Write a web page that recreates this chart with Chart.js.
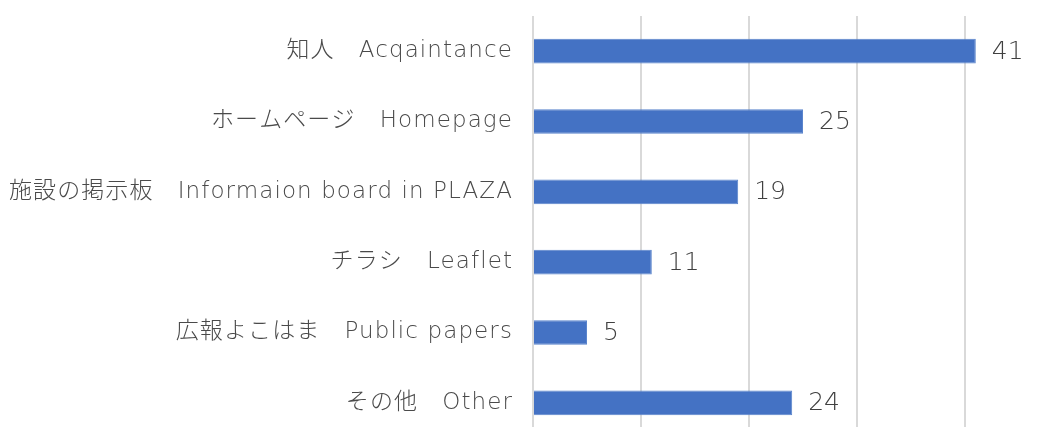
<!DOCTYPE html>
<html>
<head>
<meta charset="utf-8">
<script src="https://cdn.jsdelivr.net/npm/chart.js@4/dist/chart.umd.min.js"></script>
<style>
  html, body { margin: 0; padding: 0; background: #fff; overflow: hidden; }
  #wrap { width: 1080px; height: 445px; }
</style>
</head>
<body>
<div id="wrap"><canvas id="myChart" width="1080" height="445"></canvas></div>
<script>
const categories = [
  "知人　Acqaintance",
  "ホームページ　Homepage",
  "施設の掲示板　Informaion board in PLAZA",
  "チラシ　Leaflet",
  "広報よこはま　Public papers",
  "その他　Other",
];
const counts = [41, 25, 19, 11, 5, 24];
const xMax = 50;
const xStep = 10;

const fontFamily = "'DejaVu Sans', 'Noto Sans CJK JP', sans-serif";

// the labels in the original are set a bit wider than DejaVu
const spacing = {
  id: "spacing",
  beforeDraw(chart) {
    chart.ctx.letterSpacing = "1.1px";
  },
};

// draw the numbers just past the end of each bar
const valueLabels = {
  id: "valueLabels",
  afterDatasetsDraw(chart) {
    const c = chart.ctx;
    const meta = chart.getDatasetMeta(0);
    c.save();
    c.letterSpacing = "0px";
    c.font = "200 25px " + fontFamily;
    c.fillStyle = "#404040";
    c.textAlign = "left";
    c.textBaseline = "middle";
    meta.data.forEach((bar, i) => {
      c.fillText(String(counts[i]), bar.x + 16, bar.y + 1);
    });
    c.restore();
  },
};

const ctx = document.getElementById("myChart");

const myChart = new Chart(ctx, {
  type: "bar",
  data: {
    labels: categories,
    datasets: [
      {
        data: counts,
        backgroundColor: "#4472C4",
        borderColor: "#5a84cc",
        borderWidth: 1,
        categoryPercentage: 1,
        barPercentage: 0.35,
      },
    ],
  },
  options: {
    indexAxis: "y",
    responsive: false,
    animation: false,
    layout: { padding: { top: 16, right: 7, bottom: 7, left: 0 } },
    plugins: {
      legend: { display: false },
      tooltip: { enabled: false },
    },
    scales: {
      x: {
        min: 0,
        max: xMax,
        ticks: { display: false, stepSize: xStep },
        grid: { color: "#d9d9d9", lineWidth: 2, drawTicks: false },
        border: { display: false },
        afterFit(scale) {
          scale.height = 0;
          scale.paddingLeft = 0;
          scale.paddingRight = 0;
        },
      },
      y: {
        ticks: {
          padding: 20,
          color: "#4a4a4a",
          font: { family: fontFamily, size: 23, weight: 200 },
        },
        grid: { display: false, drawTicks: false },
        border: { display: false },
        afterFit(scale) {
          scale.width = 533;
          scale.paddingTop = 0;
          scale.paddingBottom = 0;
        },
      },
    },
  },
  plugins: [spacing, valueLabels],
});
</script>
</body>
</html>
